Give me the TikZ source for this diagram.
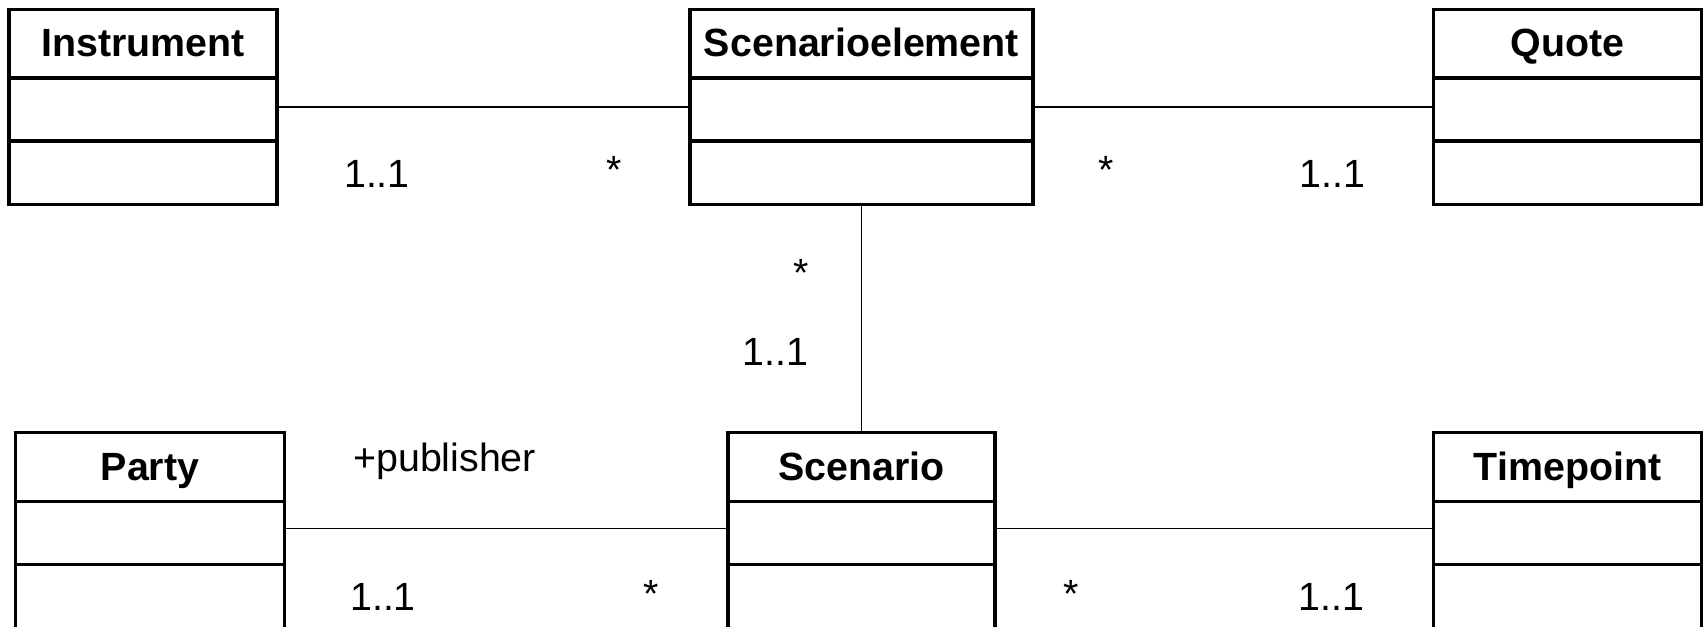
\documentclass[tikz,border=0pt]{standalone}
\usepackage{fontspec}
\setmainfont{Liberation Sans}
\newcommand{\compart}[1]{%
\draw[boxline] ([yshift=-7.04mm]#1.north west) -- ([yshift=-7.04mm]#1.north east);
\draw[boxline] ([yshift=-13.34mm]#1.north west) -- ([yshift=-13.34mm]#1.north east);}
\begin{document}
\begin{tikzpicture}[
  boxline/.style={line width=0.95pt},
  classbox/.style={draw, boxline, minimum width=2.68cm, minimum height=1.95cm, inner sep=0pt, anchor=north},
  classname/.style={font=\fontsize{11.2}{13}\selectfont\bfseries, inner sep=0pt, anchor=base},
  mult/.style={font=\fontsize{11.2}{13}\selectfont, inner sep=0pt},
  assoc/.style={line width=0.5pt}]
\useasboundingbox (0,0) rectangle (17.03,-6.27);
% classes, top row
\node[classbox] (instr) at (1.43,-0.076) {};
\node[classbox, minimum width=3.43cm] (scenel) at (8.615,-0.076) {};
\node[classbox] (quote) at (15.675,-0.076) {};
% classes, bottom row (cut at the lower edge)
\node[classbox, minimum width=2.69cm, minimum height=2cm] (party) at (1.50,-4.31) {};
\node[classbox, minimum width=2.67cm, minimum height=2cm] (scen) at (8.615,-4.31) {};
\node[classbox, minimum height=2cm] (time) at (15.675,-4.31) {};
\foreach \c in {instr,scenel,quote,party,scen,time} {\compart{\c}}
\node[classname] (instrname) at ([yshift=-4.94mm]instr.north) {Instrument};
\node[classname] (scenelname) at ([yshift=-4.94mm]scenel.north) {Scenarioelement};
\node[classname] (quotename) at ([yshift=-4.94mm]quote.north) {Quote};
\node[classname] (partyname) at ([yshift=-4.94mm]party.north) {Party};
\node[classname] (scenname) at ([yshift=-4.94mm]scen.north) {Scenario};
\node[classname] (timename) at ([yshift=-4.94mm]time.north) {Timepoint};
% associations
\draw[assoc] (instr.east) -- (instr.east -| scenel.west)
  node[mult, pos=.24, yshift=-6.7mm] (instrm) {1..1}
  node[mult, pos=.82, yshift=-6.3mm] (scenelm1) {*};
\draw[assoc] (scenel.east) -- (scenel.east -| quote.west)
  node[mult, pos=.18, yshift=-6.3mm] (scenelm2) {*}
  node[mult, pos=.75, yshift=-6.7mm] (quotem) {1..1};
\draw[assoc] (scenel.south) -- (scen.north)
  node[mult, pos=.30, xshift=-6mm] (scenelm3) {*}
  node[mult, pos=.65, xshift=-8.6mm] (scenm1) {1..1};
\draw[assoc] ([yshift=-9.75mm]party.north east) -- ([yshift=-9.75mm]party.north east -| scen.west)
  node[mult, pos=.36, yshift=6.7mm] (publisher) {+publisher}
  node[mult, pos=.22, yshift=-6.8mm] (partym) {1..1}
  node[mult, pos=.83, yshift=-6.5mm] (scenm2) {*};
\draw[assoc] ([yshift=-9.75mm]scen.north east) -- ([yshift=-9.75mm]scen.north east -| time.west)
  node[mult, pos=.17, yshift=-6.5mm] (scenm3) {*}
  node[mult, pos=.77, yshift=-6.8mm] (timem) {1..1};
\end{tikzpicture}
\end{document}
